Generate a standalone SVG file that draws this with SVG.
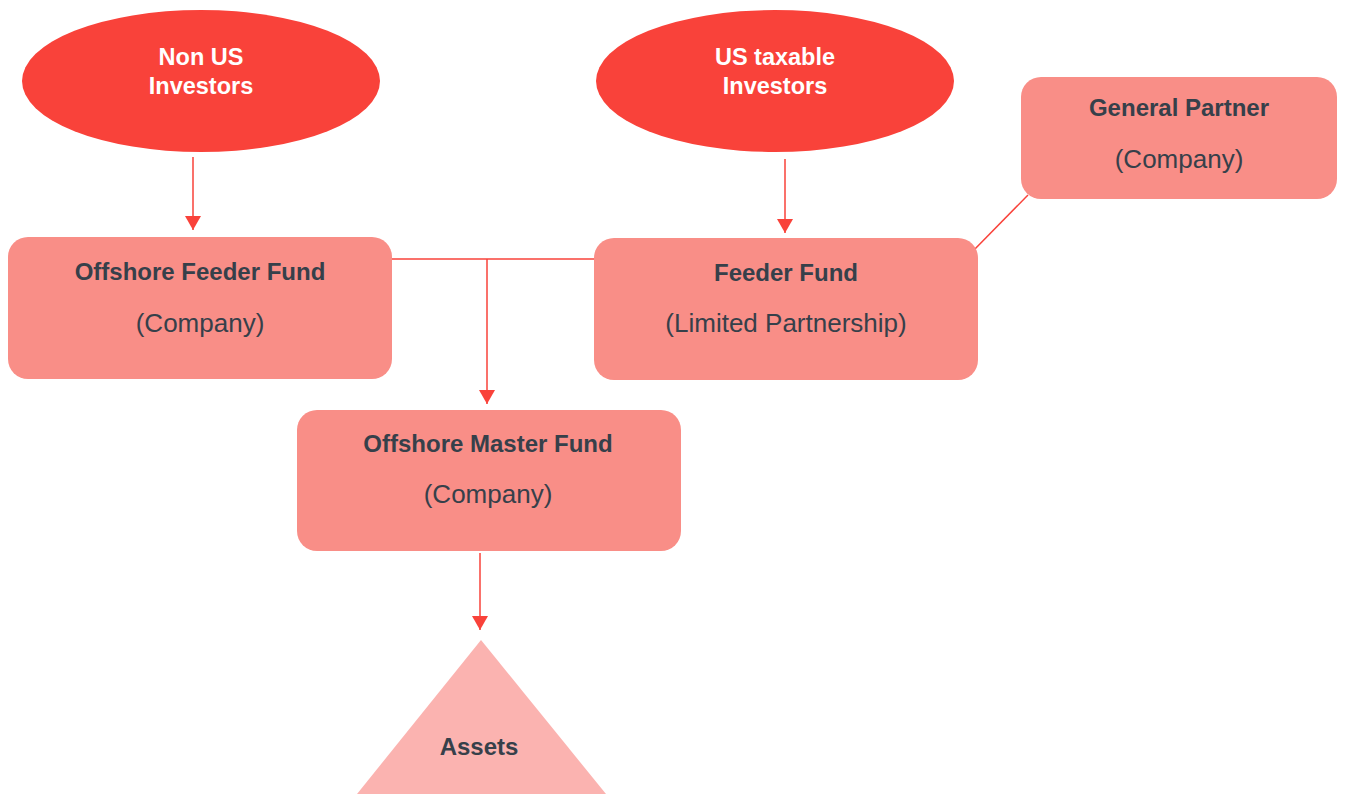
<svg xmlns="http://www.w3.org/2000/svg" width="1346" height="794" viewBox="0 0 1346 794">
<defs>
<marker id="ah" markerWidth="14" markerHeight="16" refX="14" refY="8" orient="auto" markerUnits="userSpaceOnUse" viewBox="0 0 14 16">
<path d="M0,0 L14,8 L0,16 Z" fill="#F9423A"/>
</marker>
<style>
.ell{fill:#F9423A}
.box{fill:#F98E87}
.tri{fill:#FBB3B0}
.tw{font-family:"Liberation Sans",Arial,sans-serif;font-weight:bold;font-size:23.5px;fill:#ffffff;text-anchor:middle}
.tb{font-family:"Liberation Sans",Arial,sans-serif;font-weight:bold;font-size:24px;fill:#36404A;text-anchor:middle}
.tr{font-family:"Liberation Sans",Arial,sans-serif;font-size:26px;fill:#36404A;text-anchor:middle}
.ln{stroke:#F9423A;stroke-width:1.5;fill:none}
</style>
</defs>
<rect width="1346" height="794" fill="#ffffff"/>
<g id="connectors">
<line class="ln" x1="193" y1="157" x2="193" y2="230" marker-end="url(#ah)"/>
<line class="ln" x1="785" y1="159" x2="785" y2="233" marker-end="url(#ah)"/>
<line class="ln" x1="392" y1="259" x2="594" y2="259"/>
<line class="ln" x1="487" y1="259" x2="487" y2="404" marker-end="url(#ah)"/>
<line class="ln" x1="480" y1="553" x2="480" y2="630" marker-end="url(#ah)"/>
<line class="ln" x1="1028" y1="195" x2="972" y2="252"/>
</g>
<g id="non-us-investors">
<ellipse class="ell" cx="201" cy="81" rx="179" ry="71"/>
<text class="tw" x="201" y="65">Non US</text>
<text class="tw" x="201" y="94">Investors</text>
</g>
<g id="us-taxable-investors">
<ellipse class="ell" cx="775" cy="81" rx="179" ry="71"/>
<text class="tw" x="775" y="65">US taxable</text>
<text class="tw" x="775" y="94">Investors</text>
</g>
<g id="general-partner">
<rect class="box" x="1021" y="77" width="316" height="122" rx="20"/>
<text class="tb" x="1179" y="116">General Partner</text>
<text class="tr" x="1179" y="168">(Company)</text>
</g>
<g id="offshore-feeder-fund">
<rect class="box" x="8" y="237" width="384" height="142" rx="20"/>
<text class="tb" x="200" y="280">Offshore Feeder Fund</text>
<text class="tr" x="200" y="332">(Company)</text>
</g>
<g id="feeder-fund">
<rect class="box" x="594" y="238" width="384" height="142" rx="20"/>
<text class="tb" x="786" y="281">Feeder Fund</text>
<text class="tr" x="786" y="332">(Limited Partnership)</text>
</g>
<g id="offshore-master-fund">
<rect class="box" x="297" y="410" width="384" height="141" rx="20"/>
<text class="tb" x="488" y="452">Offshore Master Fund</text>
<text class="tr" x="488" y="503">(Company)</text>
</g>
<g id="assets">
<polygon class="tri" points="481,640 606,794 357,794"/>
<text class="tb" x="479" y="755">Assets</text>
</g>
</svg>
